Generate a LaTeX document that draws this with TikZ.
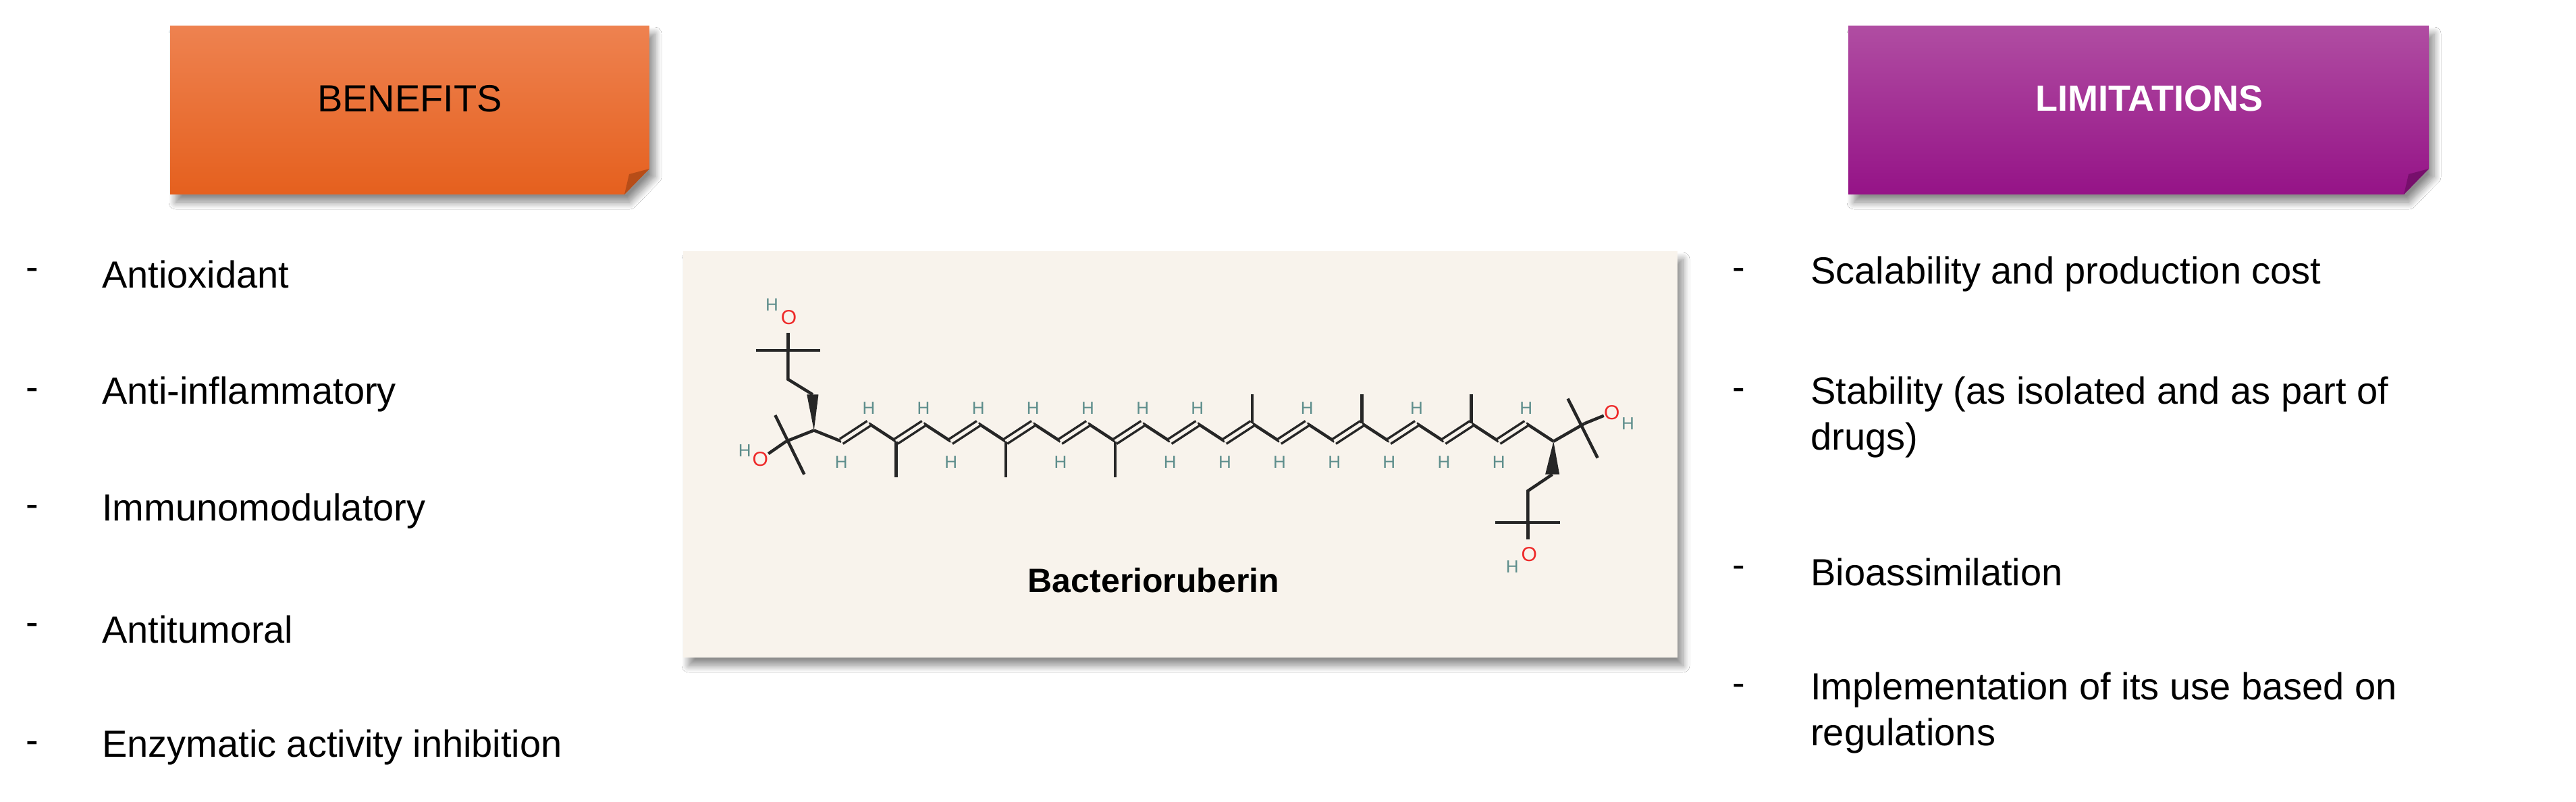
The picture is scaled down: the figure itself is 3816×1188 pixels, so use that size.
\documentclass[tikz,border=0pt]{standalone}
\usepackage{fontspec}
\setmainfont{Liberation Sans}
\usetikzlibrary{shadows.blur,calc}
\definecolor{orA}{HTML}{EE8250}
\definecolor{orB}{HTML}{E5601E}
\definecolor{maA}{HTML}{B04DA2}
\definecolor{maB}{HTML}{951387}
\definecolor{paper}{HTML}{F8F3EC}
\definecolor{hcol}{HTML}{5E8E8C}
\definecolor{ored}{HTML}{EE2A2A}
\tikzset{
  body/.style={anchor=west,font=\fontsize{56}{68}\selectfont,inner sep=0pt,align=left},
  dashm/.style={anchor=west,font=\fontsize{56}{68}\selectfont,inner sep=0pt},
  bond/.style={line width=4.5pt,black!85},
  dbond/.style={double=paper,double distance=5pt,line width=3.5pt,black!85},
  hlab/.style={text=hcol,font=\fontsize{26}{26}\selectfont,inner sep=0pt},
  olab/.style={text=ored,font=\fontsize{30}{30}\selectfont,inner sep=0pt},
  shd/.style={blur shadow={shadow xshift=8pt,shadow yshift=-12pt,shadow blur steps=12,shadow blur radius=10pt,shadow opacity=45}}
}
\begin{document}
\begin{tikzpicture}[x=1pt,y=-1pt]
\useasboundingbox (0,0) rectangle (3816,1188);
\fill[white] (0,0) rectangle (3816,1188);
% banners
\path[shd,top color=orA,bottom color=orB] (252,38) -- (962,38) -- (962,250) -- (925,288) -- (252,288) -- cycle;
\fill[orB!80!black] (962,250) -- (925,288) -- (932,258) -- cycle;
\node[font=\fontsize{56}{56}\selectfont] (ben) at (607,146) {BENEFITS};
\path[shd,top color=maA,bottom color=maB] (2738,38) -- (3598,38) -- (3598,250) -- (3561,288) -- (2738,288) -- cycle;
\fill[maB!80!black] (3598,250) -- (3561,288) -- (3568,258) -- cycle;
\node[font=\bfseries\fontsize{54}{54}\selectfont,text=white] (lim) at (3184,146) {LIMITATIONS};
% left list
\foreach \y/\t [count=\i] in {406/Antioxidant,584/Anti-inflammatory,757/Immunomodulatory,932/Antitumoral,1107/Enzymatic activity inhibition}{
  \node[dashm] (bd\i) at (38,\y) {-};
  \node[body] (b\i) at (151,\y) {\t};
}
% right list
\node[dashm] (ld1) at (2566,406) {-};
\node[body] (l1) at (2682,406) {Scalability and production cost};
\node[dashm] (ld2) at (2566,584) {-};
\node[body,anchor=north west] (l2) at (2682,558) {Stability (as isolated and as part of\\drugs)};
\node[dashm] (ld3) at (2566,847) {-};
\node[body] (l3) at (2682,847) {Bioassimilation};
\node[dashm] (ld4) at (2566,1022) {-};
\node[body,anchor=north west] (l4) at (2682,996) {Implementation of its use based on\\regulations};
% molecule box
\path[shd,fill=paper] (1012,372) rectangle (2485,974);
\node[font=\bfseries\fontsize{50}{50}\selectfont] (name) at (1709,860) {Bacterioruberin};
\begin{scope}[shift={(1000,360)},xscale=0.957,yscale=0.408]
  \foreach \i in {0,...,27}{
    \pgfmathsetmacro{\xx}{215+42.4*\i}
    \pgfmathsetmacro{\yy}{ifthenelse(\i==0,680,ifthenelse(mod(\i,2)==0,655,720))}
    \coordinate (v\i) at (\xx,\yy);
  }
  \foreach \i [evaluate=\i as \j using int(\i+1)] in {0,2,...,26}{\draw[bond] (v\i) -- (v\j);}
  \foreach \i [evaluate=\i as \j using int(\i+1)] in {1,3,...,25}{\draw[dbond] (v\i) -- (v\j);}
  \foreach \i in {3,7,11}{\draw[bond] (v\i) -- ++(0,130);}
  \foreach \i in {16,20,24}{\draw[bond] (v\i) -- ++(0,-105);}
  \foreach \i in {2,4,6,8,10,12,14,18,22,26}{\node[hlab] (ht\i) at ($(v\i)+(0,-55)$) {H};}
  \foreach \i in {1,5,9,13,15,17,19,21,23,25}{\node[hlab] (hb\i) at ($(v\i)+(0,75)$) {H};}
  \coordinate (q1) at (172,720);
  \draw[bond] (v0) -- (q1);
  \draw[bond] (155,625) -- (200,840);
  \node[olab] (o1) at (132,785) {O};
  \node[hlab] (h1) at (108,755) {H};
  \draw[bond] (q1) -- (o1);
  \fill[black!85] (v0) -- (204,550) -- (222,550) -- cycle;
  \draw[bond] (213,550) -- (175,495) -- (175,390);
  \draw[bond] (125,390) -- (225,390);
  \draw[bond] (175,390) -- (175,325);
  \node[olab] (o2) at (176,270) {O};
  \node[hlab] (h2) at (150,225) {H};
  \coordinate (q2) at (1408,655);
  \draw[bond] (v27) -- (q2);
  \draw[bond] (1382,565) -- (1428,780);
  \node[olab] (o3) at (1450,615) {O};
  \node[hlab] (h3) at (1475,655) {H};
  \draw[bond] (q2) -- (o3);
  \fill[black!85] (v27) -- (1347,840) -- (1369,840) -- cycle;
  \draw[bond] (1358,840) -- (1320,900) -- (1320,1015);
  \draw[bond] (1270,1015) -- (1370,1015);
  \draw[bond] (1320,1015) -- (1320,1075);
  \node[olab] (o4) at (1322,1130) {O};
  \node[hlab] (h4) at (1296,1175) {H};
\end{scope}
\end{tikzpicture}
\end{document}
